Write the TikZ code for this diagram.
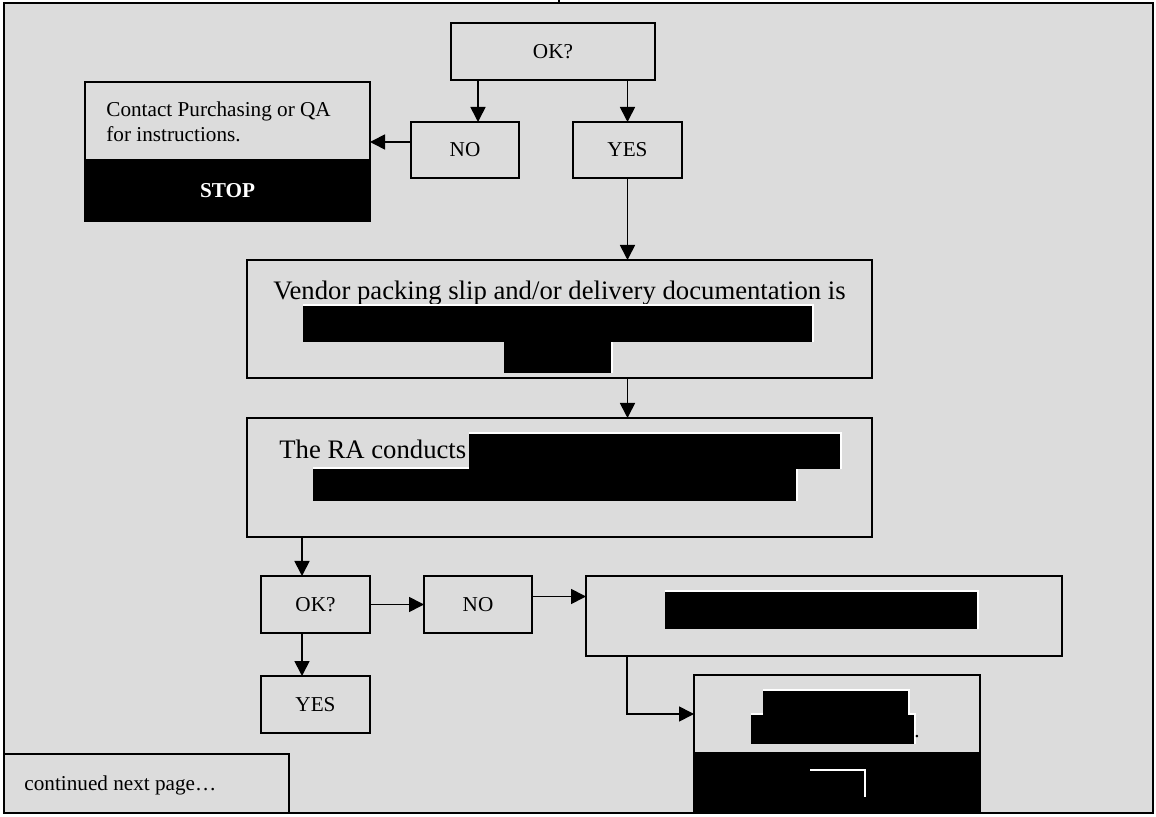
\documentclass[tikz,border=0pt]{standalone}
\usepackage{fontspec}
\setmainfont{Liberation Serif}
\usetikzlibrary{arrows.meta,positioning,calc}
\definecolor{bgray}{RGB}{220,220,220}

\begin{document}
\begin{tikzpicture}[x=0.5pt,y=-0.5pt]

\tikzset{
  box/.style    = {draw, line width=0.9pt, fill=bgray, inner sep=0pt, outer sep=0pt,
                   anchor=north west, font=\fontsize{10.6}{12.5}\selectfont},
  blackbox/.style = {box, fill=black, text=white, font=\fontsize{10.6}{12.5}\selectfont\bfseries},
  txt/.style    = {inner sep=0pt, font=\fontsize{10.6}{12.5}\selectfont},
  bigtxt/.style = {inner sep=0pt, font=\fontsize{13.35}{15}\selectfont},
  flow/.style   = {-{Triangle[length=7.5pt,width=7.5pt]}, line width=0.85pt},
}

\fill[white] (0,0) rectangle (1156,817);
\useasboundingbox (0,0) rectangle (1156,817);

\node[box, line width=1pt, minimum width=574.5pt, minimum height=405pt] (frame) at (4,3) {};

\node[box, minimum width=102pt, minimum height=28.5pt] (ok1) at (451,23) {OK?};
\node[box, minimum width=54pt, minimum height=28pt] (no1) at (411,122) {NO};
\node[box, minimum width=54.5pt, minimum height=28pt] (yes1) at (573,122) {YES};
\node[box, minimum width=142.5pt, minimum height=39pt] (contact) at (85,82) {};
\node[blackbox, minimum width=142.5pt, minimum height=30.5pt] (stop1) at (85,160) {STOP};
\node[txt, anchor=base west] (ct1) at (106,117) {Contact Purchasing or QA};
\node[txt, anchor=base west] (ct2) at (106,142) {for instructions.};

\node[box, minimum width=312.5pt, minimum height=59pt] (vendor) at (247,260) {};
\node[bigtxt, anchor=base] (vt) at (559.5,300) {Vendor packing slip and/or delivery documentation is};
\node[box, minimum width=312.5pt, minimum height=59.5pt] (ra) at (247,418) {};
\node[bigtxt, anchor=base west] (rt) at (279,459) {The RA conducts};

\node[box, minimum width=54.5pt, minimum height=28.5pt] (ok2) at (261,576) {OK?};
\node[box, minimum width=54pt, minimum height=28.5pt] (no2) at (424,576) {NO};
\node[box, minimum width=54.5pt, minimum height=28.5pt] (yes2) at (261,676) {YES};
\node[box, minimum width=238pt, minimum height=40pt] (rbox) at (586,576) {};
\node[box, minimum width=143pt, minimum height=39pt] (s2top) at (694,675) {};
\node[blackbox, minimum width=143pt, minimum height=30pt] (s2bot) at (694,753) {};
\node[box, minimum width=142.5pt, minimum height=29.5pt] (cont) at (4,754) {};
\node[txt, anchor=base west] (cnt) at (24,790) {continued next page…};

\foreach \xa/\ya/\xb/\yb in {303/306/812/342, 504/342/611/373, 469/434/840/469,
    313/469/796/501, 665/592/977/629, 763/691/908/715, 751/715/914/744}
  \fill[white] (\xa,\ya-2) rectangle (\xb+2,\yb);
\foreach \xa/\ya/\xb/\yb in {303/306/812/342, 504/342/611/373, 469/434/840/469,
    313/469/796/501, 665/592/977/629, 763/691/908/715, 751/715/914/744}
  \fill[black] (\xa,\ya) rectangle (\xb,\yb);
\node[txt, anchor=base west] (dot) at (914,737) {.};
\draw[white, line width=1pt] (810,770) -- (865,770) -- (865,797);

\coordinate (t0) at (559,0);
\draw[line width=0.7pt] (t0) -- (t0 |- frame.north);
\coordinate (o1) at ($(no1.north)+(13,0)$);
\draw[flow] (o1 |- ok1.south) -- (o1);
\draw[flow] (ok1.south -| yes1.north) -- (yes1.north);
\coordinate (n1) at ($(no1.west)+(0,-8)$);
\draw[flow] (n1) -- (n1 -| contact.east);
\draw[flow] (yes1.south) -- (yes1.south |- vendor.north);
\draw[flow] (vendor.south -| yes1.south) -- (ra.north -| yes1.south);
\coordinate (r1) at ($(ok2.north west)+(41,0)$);
\draw[flow] (r1 |- ra.south) -- (r1);
\draw[flow] (ok2.south -| r1) -- (yes2.north -| r1);
\draw[flow] (ok2.east) -- (no2.west);
\coordinate (n2) at ($(no2.east)+(0,-8)$);
\draw[flow] (n2) -- (n2 -| rbox.west);
\draw[flow] ($(rbox.south west)+(41,0)$) |- (s2top.west);
\end{tikzpicture}
\end{document}
